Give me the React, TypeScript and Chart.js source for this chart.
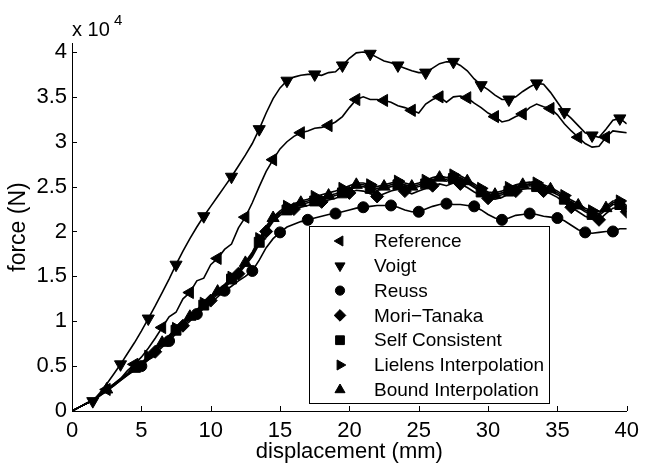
import React, { useEffect, useRef } from 'react';
import { Chart, registerables } from 'chart.js';
import { drawPoint } from 'chart.js/helpers';

Chart.register(...registerables);

// displacement (mm)
const X = [0, 0.5, 1, 1.5, 2, 2.5, 3, 3.5, 4, 4.5, 5, 5.5, 6, 6.5, 7, 7.5, 8, 8.5, 9, 9.5, 10,
  10.5, 11, 11.5, 12, 12.5, 13, 13.5, 14, 14.5, 15, 15.5, 16, 16.5, 17, 17.5, 18, 18.5, 19, 19.5, 20,
  20.5, 21, 21.5, 22, 22.5, 23, 23.5, 24, 24.5, 25, 25.5, 26, 26.5, 27, 27.5, 28, 28.5, 29, 29.5, 30,
  30.5, 31, 31.5, 32, 32.5, 33, 33.5, 34, 34.5, 35, 35.5, 36, 36.5, 37, 37.5, 38, 38.5, 39, 39.5, 40];

// force (x 10^4 N)
const REFERENCE = [0, 0.04, 0.08, 0.12, 0.18, 0.24, 0.3, 0.36, 0.45, 0.52, 0.6,
  0.7, 0.81, 0.93, 1.05, 1.1, 1.25, 1.32, 1.45, 1.48, 1.63,
  1.7, 1.8, 1.86, 2.04, 2.16, 2.32, 2.5, 2.67, 2.8, 2.92,
  3.0, 3.06, 3.1, 3.12, 3.15, 3.16, 3.18, 3.22, 3.28, 3.38,
  3.47, 3.5, 3.47, 3.47, 3.46, 3.44, 3.4, 3.38, 3.35, 3.32,
  3.42, 3.47, 3.5, 3.44, 3.5, 3.51, 3.49, 3.43, 3.38, 3.32,
  3.28, 3.22, 3.24, 3.28, 3.31, 3.38, 3.42, 3.39, 3.37, 3.3,
  3.2, 3.12, 3.05, 2.98, 2.94, 2.95, 3.05, 3.12, 3.11, 3.1];

const VOIGT = [0, 0.04, 0.08, 0.11, 0.2, 0.3, 0.41, 0.52, 0.64, 0.76, 0.89,
  1.03, 1.17, 1.32, 1.47, 1.63, 1.78, 1.92, 2.05, 2.17, 2.28,
  2.39, 2.5, 2.61, 2.73, 2.85, 2.98, 3.14, 3.32, 3.48, 3.6,
  3.68, 3.72, 3.74, 3.75, 3.75, 3.74, 3.77, 3.78, 3.85, 3.93,
  3.99, 4.0, 3.98, 3.94, 3.9, 3.88, 3.85, 3.82, 3.79, 3.77,
  3.77, 3.82, 3.87, 3.89, 3.89, 3.85, 3.79, 3.7, 3.63, 3.58,
  3.52, 3.47, 3.47, 3.5, 3.56, 3.61, 3.65, 3.64, 3.55, 3.44,
  3.33, 3.26, 3.18, 3.1, 3.07, 3.05, 3.14, 3.24, 3.26, 3.2];

const REUSS = [0, 0.04, 0.08, 0.12, 0.17, 0.22, 0.28, 0.34, 0.4, 0.45, 0.5,
  0.57, 0.64, 0.71, 0.78, 0.86, 0.93, 1.0, 1.08, 1.14, 1.2,
  1.27, 1.34, 1.39, 1.45, 1.5, 1.56, 1.68, 1.82, 1.92, 1.99,
  2.05, 2.08, 2.11, 2.13, 2.15, 2.17, 2.19, 2.2, 2.22, 2.24,
  2.26, 2.27, 2.28, 2.29, 2.29, 2.29, 2.27, 2.24, 2.22, 2.22,
  2.25, 2.28, 2.3, 2.31, 2.3, 2.3, 2.29, 2.28, 2.24, 2.19,
  2.15, 2.13, 2.15, 2.18, 2.19, 2.2, 2.19, 2.17, 2.16, 2.15,
  2.12, 2.07, 2.02, 1.99, 1.98, 1.99, 2.0, 2.0, 2.03, 2.03];

const MORI_TANAKA = [0, 0.04, 0.08, 0.12, 0.17, 0.23, 0.28, 0.34, 0.4, 0.46, 0.52,
  0.59, 0.66, 0.73, 0.81, 0.88, 0.95, 1.02, 1.09, 1.16, 1.23,
  1.3, 1.37, 1.45, 1.53, 1.62, 1.72, 1.86, 2.0, 2.11, 2.18,
  2.22, 2.25, 2.27, 2.29, 2.31, 2.33, 2.35, 2.37, 2.4, 2.43,
  2.46, 2.45, 2.42, 2.39, 2.42, 2.45, 2.47, 2.45, 2.42, 2.45,
  2.48, 2.51, 2.53, 2.51, 2.54, 2.53, 2.49, 2.44, 2.4, 2.37,
  2.36, 2.38, 2.42, 2.45, 2.47, 2.48, 2.47, 2.45, 2.42, 2.38,
  2.32, 2.27, 2.22, 2.17, 2.14, 2.13, 2.2, 2.26, 2.27, 2.22];

const SELF_CONSISTENT = [0, 0.04, 0.08, 0.12, 0.18, 0.23, 0.29, 0.35, 0.41, 0.47, 0.53,
  0.6, 0.67, 0.75, 0.83, 0.9, 0.97, 1.04, 1.11, 1.18, 1.25,
  1.32, 1.39, 1.47, 1.55, 1.64, 1.74, 1.88, 2.02, 2.13, 2.2,
  2.24, 2.27, 2.3, 2.32, 2.34, 2.36, 2.38, 2.4, 2.43, 2.46,
  2.5, 2.5, 2.48, 2.46, 2.48, 2.5, 2.52, 2.5, 2.48, 2.5,
  2.53, 2.56, 2.58, 2.56, 2.59, 2.58, 2.54, 2.49, 2.44, 2.4,
  2.39, 2.41, 2.45, 2.48, 2.5, 2.51, 2.5, 2.48, 2.45, 2.41,
  2.36, 2.31, 2.27, 2.22, 2.19, 2.18, 2.24, 2.3, 2.3, 2.25];

const LIELENS = [0, 0.04, 0.08, 0.12, 0.18, 0.24, 0.3, 0.36, 0.42, 0.48, 0.54,
  0.61, 0.68, 0.76, 0.84, 0.92, 0.99, 1.06, 1.13, 1.2, 1.27,
  1.34, 1.41, 1.49, 1.57, 1.66, 1.77, 1.92, 2.06, 2.16, 2.23,
  2.28, 2.31, 2.34, 2.36, 2.39, 2.41, 2.43, 2.45, 2.48, 2.51,
  2.54, 2.54, 2.52, 2.5, 2.52, 2.54, 2.56, 2.54, 2.52, 2.54,
  2.57, 2.6, 2.62, 2.6, 2.63, 2.62, 2.58, 2.53, 2.48, 2.44,
  2.43, 2.45, 2.49, 2.52, 2.54, 2.55, 2.54, 2.52, 2.49, 2.45,
  2.4, 2.35, 2.31, 2.26, 2.23, 2.22, 2.28, 2.34, 2.34, 2.29];

const BOUND = [0, 0.04, 0.08, 0.12, 0.18, 0.24, 0.29, 0.35, 0.41, 0.47, 0.53,
  0.6, 0.68, 0.76, 0.84, 0.91, 0.98, 1.05, 1.12, 1.19, 1.26,
  1.33, 1.4, 1.48, 1.56, 1.65, 1.76, 1.9, 2.04, 2.15, 2.21,
  2.26, 2.29, 2.32, 2.34, 2.36, 2.38, 2.4, 2.42, 2.45, 2.48,
  2.52, 2.52, 2.5, 2.48, 2.5, 2.52, 2.54, 2.52, 2.5, 2.52,
  2.55, 2.58, 2.6, 2.58, 2.61, 2.6, 2.56, 2.51, 2.46, 2.42,
  2.41, 2.43, 2.47, 2.5, 2.52, 2.53, 2.52, 2.5, 2.47, 2.43,
  2.38, 2.33, 2.29, 2.24, 2.21, 2.2, 2.26, 2.32, 2.32, 2.27];

const SERIES_NAMES = ['Reference', 'Voigt', 'Reuss', 'Mori\u2212Tanaka', 'Self Consistent',
  'Lielens Interpolation', 'Bound Interpolation'];

const X_TICKS = [0, 5, 10, 15, 20, 25, 30, 35, 40];
const Y_TICKS = [0, 0.5, 1, 1.5, 2, 2.5, 3, 3.5, 4];

const X_TITLE = 'displacement (mm)';
const Y_TITLE = 'force (N)';

const FONT = "'Liberation Sans', Arial, Helvetica, sans-serif";

type Spec = { values: number[]; style: string; rot: number; r: number; lr: number; start: number };

const SPECS: Spec[] = [
  { values: REFERENCE, style: 'triangle', rot: -90, r: 7, lr: 5.8, start: 5 },
  { values: VOIGT, style: 'triangle', rot: 180, r: 7, lr: 5.8, start: 3 },
  { values: REUSS, style: 'circle', rot: 0, r: 5.5, lr: 4.6, start: 10 },
  { values: MORI_TANAKA, style: 'rectRot', rot: 0, r: 6.5, lr: 5.8, start: 12 },
  { values: SELF_CONSISTENT, style: 'rect', rot: 0, r: 7, lr: 6.2, start: 15 },
  { values: LIELENS, style: 'triangle', rot: 90, r: 7, lr: 5.8, start: 11 },
  { values: BOUND, style: 'triangle', rot: 0, r: 7, lr: 5.8, start: 5 },
];

const decorPlugin = {
  id: 'decor',
  afterDraw(chart: any) {
    const ctx = chart.ctx as CanvasRenderingContext2D;
    const xs = chart.scales.x;
    const ys = chart.scales.y;
    const area = chart.chartArea;
    ctx.save();
    // inward tick marks
    ctx.strokeStyle = '#000';
    ctx.lineWidth = 1;
    ctx.beginPath();
    X_TICKS.forEach((v) => {
      const px = Math.round(xs.getPixelForValue(v)) + 0.5;
      ctx.moveTo(px, area.bottom);
      ctx.lineTo(px, area.bottom - 5);
    });
    Y_TICKS.forEach((v) => {
      const py = Math.round(ys.getPixelForValue(v)) + 0.5;
      ctx.moveTo(area.left, py);
      ctx.lineTo(area.left + 5, py);
    });
    ctx.stroke();

    // axis titles
    ctx.fillStyle = '#000';
    ctx.font = `22px ${FONT}`;
    ctx.textAlign = 'center';
    ctx.textBaseline = 'alphabetic';
    ctx.fillText(X_TITLE, (area.left + area.right) / 2, 458);
    ctx.save();
    ctx.font = `23px ${FONT}`;
    ctx.translate(25, (area.top + area.bottom) / 2);
    ctx.rotate(-Math.PI / 2);
    ctx.fillText(Y_TITLE, 0, 0);
    ctx.restore();

    // exponent label
    ctx.textAlign = 'left';
    ctx.font = `20px ${FONT}`;
    ctx.fillText('x 10', 72, 36);
    ctx.font = `15px ${FONT}`;
    ctx.fillText('4', 114, 25);

    // legend
    const bx = 309.5, by = 226.5, bw = 240, bh = 177;
    ctx.fillStyle = '#fff';
    ctx.fillRect(bx, by, bw, bh);
    ctx.strokeStyle = '#000';
    ctx.lineWidth = 1;
    ctx.strokeRect(bx, by, bw, bh);
    ctx.font = `19px ${FONT}`;
    ctx.textBaseline = 'middle';
    SPECS.forEach((s, i) => {
      const cy = 241 + i * 24.8;
      ctx.fillStyle = '#000';
      ctx.strokeStyle = '#000';
      drawPoint(ctx, { pointStyle: s.style as any, rotation: s.rot, radius: s.lr, borderWidth: 1 }, 340, cy);
      ctx.fillStyle = '#000';
      ctx.fillText(SERIES_NAMES[i], 374, cy + 1);
    });
    ctx.restore();
  },
};

export default function App() {
  const ref = useRef<HTMLCanvasElement | null>(null);
  useEffect(() => {
    document.body.style.margin = '0';
    const canvas = ref.current;
    if (!canvas) return;
    const datasets = SPECS.map((s, i) => {
      const n = Math.min(X.length, s.values.length);
      const data = [] as { x: number; y: number }[];
      for (let k = 0; k < n; k++) data.push({ x: X[k], y: s.values[k] });
      return {
        label: SERIES_NAMES[i],
        data,
        borderColor: '#000',
        backgroundColor: '#000',
        borderWidth: 1.6,
        pointStyle: s.style,
        rotation: s.rot,
        pointBorderWidth: 1,
        pointBorderColor: '#000',
        pointBackgroundColor: '#000',
        pointRadius: (c: any) => (c.dataIndex >= s.start && (c.dataIndex - s.start) % 4 === 0 ? s.r : 0),
        pointHoverRadius: 0,
        tension: 0,
        fill: false,
      };
    });
    const chart = new Chart(canvas, {
      type: 'line',
      data: { datasets: datasets as any },
      options: {
        animation: false,
        responsive: false,
        devicePixelRatio: 1,
        events: [],
        layout: { padding: { top: 43, right: 19, left: 0, bottom: 0 } },
        plugins: { legend: { display: false }, tooltip: { enabled: false } },
        scales: {
          x: {
            type: 'linear',
            min: 0,
            max: 40,
            afterFit: (sc: any) => { sc.height = 54; },
            afterBuildTicks: (sc: any) => { sc.ticks = X_TICKS.map((v) => ({ value: v })); },
            ticks: { stepSize: 5, color: '#000', font: { size: 22, family: FONT }, padding: 7, maxRotation: 0, callback: (v: any) => `${+v}` },
            grid: { display: false, drawTicks: false },
            border: { display: true, color: '#000', width: 1 },
          },
          y: {
            type: 'linear',
            min: 0,
            max: 4.1,
            afterFit: (sc: any) => { sc.width = 72; },
            afterBuildTicks: (sc: any) => { sc.ticks = Y_TICKS.map((v) => ({ value: v })); },
            ticks: { stepSize: 0.5, color: '#000', font: { size: 22, family: FONT }, padding: 5, callback: (v: any) => `${+v}` },
            grid: { display: false, drawTicks: false },
            border: { display: true, color: '#000', width: 1 },
          },
        },
      },
      plugins: [decorPlugin],
    });
    return () => chart.destroy();
  }, []);
  return (
    <div style={{ position: 'absolute', left: 0, top: 0, width: 646, height: 465, background: '#fff' }}>
      <canvas ref={ref} width={646} height={465} style={{ display: 'block' }} />
    </div>
  );
}
